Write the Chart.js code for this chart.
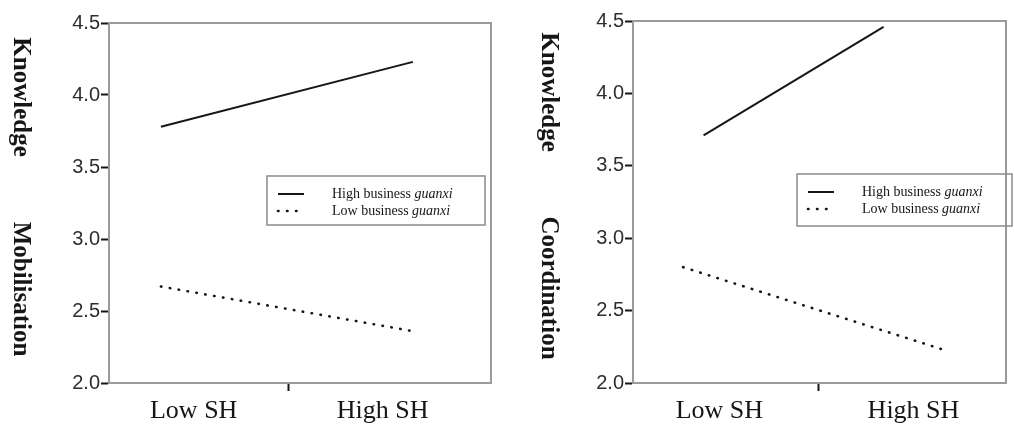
<!DOCTYPE html>
<html>
<head>
<meta charset="utf-8">
<script src="https://cdn.jsdelivr.net/npm/chart.js@4.4.1/dist/chart.umd.min.js"></script>
<style>
  html, body { margin: 0; padding: 0; background: #fff; }
  .panel { position: absolute; top: 0; width: 507px; height: 424px; }
  #left { left: 0; }
  #right { left: 507px; }
</style>
</head>
<body>
<div class="panel" id="left"><canvas id="mobChart"></canvas></div>
<div class="panel" id="right"><canvas id="coordChart"></canvas></div>
<script>
// SH level on the x axis, two business guanxi groups as lines
const shLevels = ['Low SH', 'High SH'];
const groupNames = ['High business guanxi', 'Low business guanxi'];
const yTicks = [2.0, 2.5, 3.0, 3.5, 4.0, 4.5];

// Knowledge Mobilisation
const mobHigh = [3.78, 4.23];
const mobLow = [2.67, 2.36];

// Knowledge Coordination
const coordHigh = [3.71, 4.46];
const coordLow = [2.80, 2.22];

const AXIS_GREY = '#9a9a9a';
const INK = '#161616';

// vertical bold title, reads top to bottom
const sideTitle = {
    id: 'sideTitle',
    afterDraw(chart, args, opts) {
        const ctx = chart.ctx;
        ctx.save();
        ctx.fillStyle = INK;
        ctx.font = 'bold 25px "Liberation Serif", "Times New Roman", serif';
        ctx.textAlign = 'center';
        ctx.textBaseline = 'middle';
        opts.words.forEach(function (w, i) {
            ctx.save();
            ctx.translate(opts.x, opts.ys[i]);
            ctx.rotate(Math.PI / 2);
            ctx.fillText(w, 0, 0);
            ctx.restore();
        });
        ctx.restore();
    }
};

// grey frame round the plot
const plotFrame = {
    id: 'plotFrame',
    beforeDatasetsDraw(chart) {
        const a = chart.chartArea;
        const ctx = chart.ctx;
        ctx.save();
        ctx.strokeStyle = AXIS_GREY;
        ctx.lineWidth = 2;
        ctx.strokeRect(a.left, a.top, a.right - a.left, a.bottom - a.top);
        ctx.restore();
    }
};

// boxed legend, last word in italics
const boxLegend = {
    id: 'boxLegend',
    afterDraw(chart, args, opts) {
        const ctx = chart.ctx;
        ctx.save();
        ctx.strokeStyle = '#8a8a8a';
        ctx.lineWidth = 1.5;
        ctx.strokeRect(opts.left, opts.top, opts.width, opts.height);
        chart.data.datasets.forEach(function (ds, i) {
            const y = opts.top + 18 + i * 17;
            ctx.save();
            ctx.strokeStyle = ds.borderColor;
            ctx.lineWidth = ds.borderWidth;
            ctx.lineCap = ds.borderCapStyle || 'butt';
            ctx.setLineDash(ds.borderDash || []);
            ctx.beginPath();
            ctx.moveTo(opts.left + 11, y);
            ctx.lineTo(opts.left + 37, y);
            ctx.stroke();
            ctx.restore();

            const words = ds.label.split(' ');
            const last = words.pop();
            const head = words.join(' ') + ' ';
            ctx.fillStyle = INK;
            ctx.textBaseline = 'middle';
            ctx.textAlign = 'left';
            ctx.font = '14px "Liberation Serif", "Times New Roman", serif';
            const tx = opts.left + opts.textX;
            ctx.fillText(head, tx, y);
            const w = ctx.measureText(head).width;
            ctx.font = 'italic 14px "Liberation Serif", "Times New Roman", serif';
            ctx.fillText(last, tx + w, y);
        });
        ctx.restore();
    }
};

function makeChart(id, highVals, lowVals, p) {
    const ctx = document.getElementById(id).getContext('2d');
    const toPoints = function (vals) {
        return vals.map(function (v, i) { return { x: i, y: v }; });
    };
    return new Chart(ctx, {
        type: 'line',
        data: {
            datasets: [{
                label: groupNames[0],
                data: toPoints(highVals),
                borderColor: INK,
                borderWidth: 2,
                pointRadius: 0,
                fill: false
            }, {
                label: groupNames[1],
                data: toPoints(lowVals),
                xAxisID: 'xLow',
                borderColor: INK,
                borderWidth: 2.6,
                borderDash: [0.5, 8.5],
                borderCapStyle: 'round',
                pointRadius: 0,
                fill: false
            }]
        },
        options: {
            responsive: true,
            maintainAspectRatio: false,
            animation: false,
            layout: { padding: { top: p.top, right: p.right, left: 0, bottom: 0 } },
            scales: {
                x: {
                    type: 'linear',
                    min: p.xMin,
                    max: p.xMax,
                    afterBuildTicks: function (axis) {
                        axis.ticks = p.xTickPos.map(function (v) { return { value: v }; });
                    },
                    afterFit: function (axis) { axis.height = 424 - p.bottom; },
                    ticks: {
                        autoSkip: false,
                        maxRotation: 0,
                        padding: 5,
                        color: INK,
                        font: { family: '"Liberation Serif", "Times New Roman", serif', size: 26 },
                        callback: function (v, i) {
                            if (i === 0) return shLevels[0];
                            if (i === 2) return shLevels[1];
                            return '';
                        }
                    },
                    grid: {
                        drawOnChartArea: false,
                        tickLength: 8,
                        tickWidth: 2,
                        tickColor: function (c) { return c.index === 1 ? INK : 'rgba(0,0,0,0)'; }
                    },
                    border: { color: AXIS_GREY, width: 2 }
                },
                // the dotted line spans its own stretch of the x axis
                xLow: {
                    type: 'linear',
                    display: false,
                    min: p.xLowMin,
                    max: p.xLowMax
                },
                y: {
                    min: 2,
                    max: 4.5,
                    afterBuildTicks: function (axis) {
                        axis.ticks = yTicks.map(function (v) { return { value: v }; });
                    },
                    afterFit: function (axis) { axis.width = p.yWidth; },
                    ticks: {
                        padding: 1,
                        color: '#2e2e2e',
                        font: { family: '"Liberation Sans", Arial, sans-serif', size: 20 },
                        callback: function (v) { return Number(v).toFixed(1); }
                    },
                    grid: {
                        drawOnChartArea: false,
                        tickLength: 8,
                        tickWidth: 2,
                        tickColor: INK
                    },
                    border: { color: AXIS_GREY, width: 2 }
                }
            },
            plugins: {
                legend: { display: false },
                tooltip: { enabled: false },
                sideTitle: p.title,
                boxLegend: p.legend
            }
        },
        plugins: [plotFrame, sideTitle, boxLegend]
    });
}

makeChart('mobChart', mobHigh, mobLow, {
    top: 23, right: 16, bottom: 383, yWidth: 109,
    xMin: -0.206, xMax: 1.31, xTickPos: [0.13, 0.508, 0.88],
    xLowMin: -0.206, xLowMax: 1.31,
    title: { words: ['Knowledge', 'Mobilisation'], x: 20, ys: [97, 289] },
    legend: { left: 267, top: 176, width: 218, height: 49, textX: 65 }
});

makeChart('coordChart', coordHigh, coordLow, {
    top: 21, right: 8, bottom: 383, yWidth: 126,
    xMin: -0.392, xMax: 1.68, xTickPos: [0.088, 0.641, 1.166],
    xLowMin: -0.189, xLowMax: 1.219,
    title: { words: ['Knowledge', 'Coordination'], x: 41, ys: [92, 288] },
    legend: { left: 290, top: 174, width: 215, height: 52, textX: 65 }
});
</script>
</body>
</html>
